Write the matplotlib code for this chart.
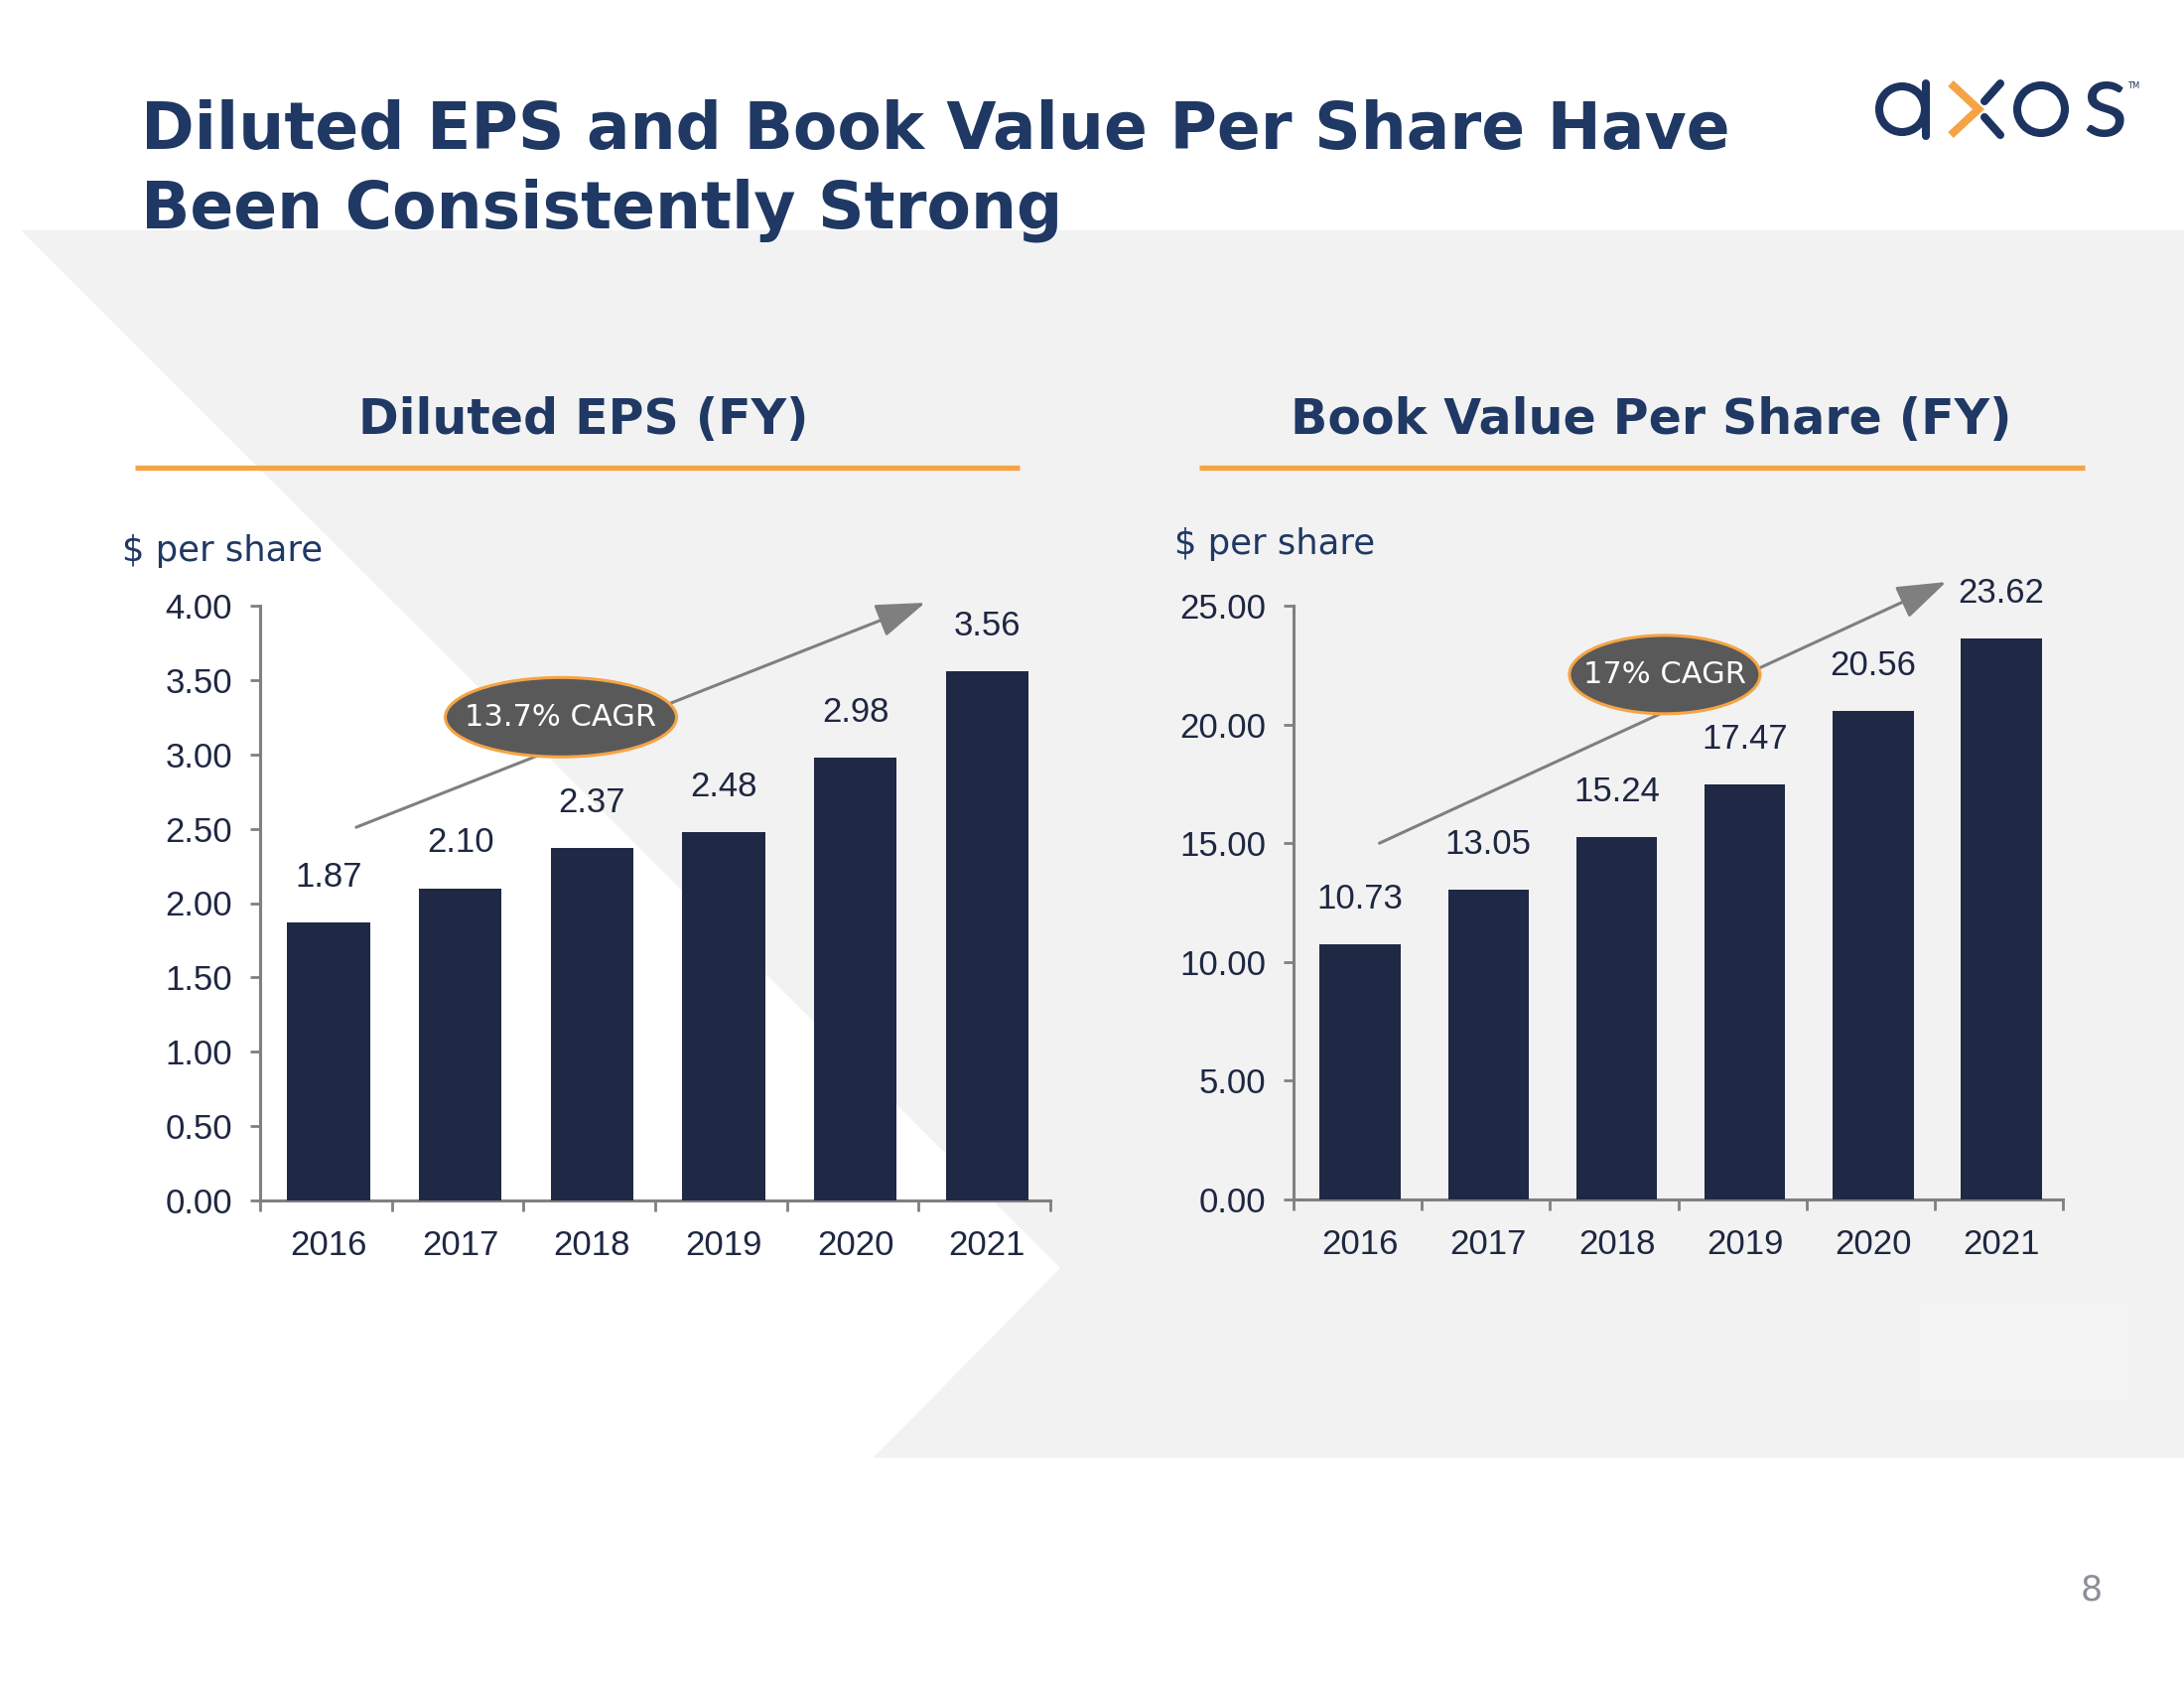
import numpy as np
import matplotlib
matplotlib.use("Agg")
import matplotlib.pyplot as plt
from matplotlib.patches import Polygon, Ellipse, Circle

# data
years = ["2016", "2017", "2018", "2019", "2020", "2021"]
eps = [1.87, 2.10, 2.37, 2.48, 2.98, 3.56]
bvps = [10.73, 13.05, 15.24, 17.47, 20.56, 23.62]
eps_ticks = [0, 0.5, 1.0, 1.5, 2.0, 2.5, 3.0, 3.5, 4.0]
bvps_ticks = [0, 5, 10, 15, 20, 25]
eps_cagr = "13.7% CAGR"
bvps_cagr = "17% CAGR"

NAVY = "#1F3864"
TXT = "#1E2742"
BAR = "#1F2845"
ORANGE = "#F5A445"
AXGREY = "#808080"
BG = "#F2F2F2"

fig = plt.figure(figsize=(22, 17), dpi=100)

# full-page layer in pixel coords (background, titles, logo)
bg = fig.add_axes([0, 0, 1, 1], zorder=0)
bg.set_xlim(0, 2200)
bg.set_ylim(1700, 0)
bg.axis("off")

bg.add_patch(Polygon([(21, 232), (2200, 232), (2200, 1468), (880, 1468), (1068, 1277)],
                     closed=True, facecolor=BG, edgecolor="none"))
bg.add_patch(Polygon([(1930, 1308), (2148, 1308), (2148, 1417), (1930, 1417)],
                     closed=True, facecolor="#F3F3F3", edgecolor="none"))

bg.text(142, 150, "Diluted EPS and Book Value Per Share Have", fontsize=46.6,
        fontweight="bold", color=NAVY, va="baseline", family="DejaVu Sans")
bg.text(142, 229, "Been Consistently Strong", fontsize=46.6,
        fontweight="bold", color=NAVY, va="baseline", family="DejaVu Sans")

# logo
LOGO = "#1D3461"
bg.add_patch(Circle((1916, 110), 23, fill=False, lw=5.8, edgecolor=LOGO))
bg.plot([1940, 1940], [84, 137], color=LOGO, lw=5.8, solid_capstyle="round")
bg.plot([1965, 1993, 1965], [84, 110, 136], color=ORANGE, lw=5.8,
        solid_capstyle="butt", solid_joinstyle="miter")
bg.plot([2015, 1999], [84, 102], color=LOGO, lw=5.8, solid_capstyle="round")
bg.plot([1999, 2015], [118, 136], color=LOGO, lw=5.8, solid_capstyle="round")
bg.add_patch(Circle((2056, 110), 24, fill=False, lw=5.8, edgecolor=LOGO))
bg.text(2120, 137, "s", fontsize=76, color=LOGO, family="Lato", ha="center", va="baseline")
bg.text(2149, 86, "TM", fontsize=6, color=LOGO, ha="center", va="center")

# page number
bg.text(2107, 1612, "8", fontsize=25, color="#8C8F99", ha="center", va="baseline")

# chart headers
bg.text(588, 437, "Diluted EPS (FY)", fontsize=35.3, fontweight="bold", color=NAVY,
        ha="center", va="baseline", family="DejaVu Sans")
bg.plot([136, 1027], [471, 471], color=ORANGE, lw=3.8, solid_capstyle="butt")
bg.text(1663, 437, "Book Value Per Share (FY)", fontsize=35.3, fontweight="bold", color=NAVY,
        ha="center", va="baseline", family="DejaVu Sans")
bg.plot([1208, 2100], [471, 471], color=ORANGE, lw=3.8, solid_capstyle="butt")
bg.text(123, 565, "$ per share", fontsize=25.5, color=NAVY, va="baseline", family="DejaVu Sans")
bg.text(1183, 558, "$ per share", fontsize=25.5, color=NAVY, va="baseline", family="DejaVu Sans")


def bar_chart(rect, values, ticks, cagr, arrow_from, arrow_to, ell_xy, ell_w, ell_h):
    ax = fig.add_axes(rect, zorder=2)
    ax.patch.set_alpha(0)
    x = np.arange(len(years))
    ax.bar(x + 0.02, values, width=0.63, color=BAR, zorder=3)
    ax.set_xlim(-0.5, len(years) - 0.5)
    ax.set_ylim(ticks[0], ticks[-1])
    ax.set_yticks(ticks)
    ax.set_yticklabels([f"{t:.2f}" for t in ticks])
    ax.set_xticks(np.arange(-0.5, len(years), 1))
    ax.set_xticklabels([])
    ax.set_xticks(x + 0.02, minor=True)
    ax.set_xticklabels(years, minor=True)
    for s in ["top", "right"]:
        ax.spines[s].set_visible(False)
    for s in ["left", "bottom"]:
        ax.spines[s].set_color(AXGREY)
        ax.spines[s].set_linewidth(2.2)
    ax.tick_params(axis="x", which="major", length=8, width=2, color=AXGREY)
    ax.tick_params(axis="x", which="minor", length=0, pad=21, labelsize=25, labelcolor=TXT)
    ax.tick_params(axis="y", length=7, width=2, color=AXGREY, pad=13, labelsize=25,
                   labelcolor=TXT)
    for lab in ax.get_xticklabels(minor=True) + ax.get_yticklabels():
        lab.set_family("Liberation Sans")
    for i, v in enumerate(values):
        ax.annotate(f"{v:.2f}", (i + 0.02, v), xytext=(0, 26), textcoords="offset points",
                    ha="center", va="baseline", fontsize=25, color=TXT,
                    family="Liberation Sans")
    ax.annotate("", xy=arrow_to, xytext=arrow_from, annotation_clip=False,
                arrowprops=dict(arrowstyle="-|>,head_length=1.1,head_width=0.38",
                                color="#7F7F7F", lw=2.2, shrinkA=0, shrinkB=0,
                                mutation_scale=28), zorder=4)
    ax.add_patch(Ellipse(ell_xy, ell_w, ell_h, facecolor="#595959", edgecolor=ORANGE,
                         lw=2.2, clip_on=False, zorder=5))
    ax.text(ell_xy[0], ell_xy[1], cagr, ha="center", va="center", fontsize=22,
            color="white", zorder=6, family="DejaVu Sans")
    return ax


bar_chart([262 / 2200, 1 - 1209 / 1700, 796 / 2200, 599 / 1700], eps, eps_ticks, eps_cagr,
          (0.23, 2.51), (4.55, 4.02), (1.784, 3.25), 1.756, 0.534)
bar_chart([1303 / 2200, 1 - 1208 / 1700, 775 / 2200, 598 / 1700], bvps, bvps_ticks, bvps_cagr,
          (0.17, 15.0), (4.59, 26.0), (2.395, 22.1), 1.487, 3.3)

fig.savefig("out.png", dpi=100)
